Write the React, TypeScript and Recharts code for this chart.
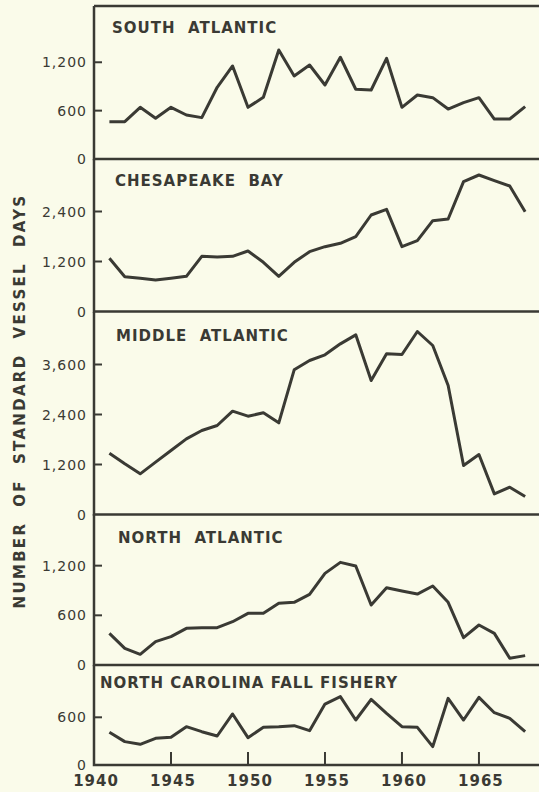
import { LineChart, Line, XAxis, YAxis } from "recharts"

// fishing effort, standard vessel days, 1941-1968
const years = [
  1941, 1942, 1943, 1944, 1945, 1946, 1947, 1948, 1949, 1950, 1951, 1952, 1953, 1954,
  1955, 1956, 1957, 1958, 1959, 1960, 1961, 1962, 1963, 1964, 1965, 1966, 1967, 1968,
]

const southAtlantic = [
  463, 463, 641, 505, 641, 546, 513, 890, 1154, 641, 765, 1352, 1030, 1166,
  918, 1262, 865, 856, 1249, 641, 794, 761, 620, 699, 761, 496, 496, 649,
]

const chesapeakeBay = [
  1276, 836, 796, 756, 796, 844, 1324, 1308, 1324, 1452, 1180, 844, 1180, 1436,
  1556, 1636, 1796, 2316, 2452, 1556, 1700, 2180, 2220, 3116, 3276, 3140, 3012, 2396,
]

const middleAtlantic = [
  1472, 1216, 976, 1256, 1536, 1816, 2016, 2136, 2480, 2360, 2440, 2200, 3472, 3696,
  3832, 4096, 4312, 3216, 3856, 3840, 4392, 4056, 3096, 1176, 1440, 496, 656, 432,
]

const northAtlantic = [
  382, 201, 129, 282, 342, 443, 451, 451, 523, 624, 624, 745, 757, 853,
  1107, 1240, 1196, 725, 934, 894, 857, 954, 757, 330, 483, 382, 81, 113,
]

const ncFallFishery = [
  411, 294, 260, 335, 348, 482, 419, 365, 642, 344, 474, 482, 495, 432,
  767, 860, 566, 826, 650, 482, 474, 231, 839, 566, 851, 658, 587, 419,
]

const yearTicks = [1940, 1945, 1950, 1955, 1960, 1965]

const data = years.map((year, i) => ({
  year,
  sa: southAtlantic[i],
  cb: chesapeakeBay[i],
  ma: middleAtlantic[i],
  na: northAtlantic[i],
  nc: ncFallFishery[i],
}))

const INK = "#3a3a34"
const PAPER = "#fafbea"
const FONT = "'DejaVu Sans', sans-serif"
const X_DOMAIN = [1940, 1968.9]
const RIGHT = 539

const panels = [
  { key: "sa", title: "SOUTH  ATLANTIC", top: 6, bottom: 159, max: 1898, ticks: [0, 600, 1200], titleX: 112, titleY: 28 },
  { key: "cb", title: "CHESAPEAKE  BAY", top: 159, bottom: 311.5, max: 3660, ticks: [0, 1200, 2400], titleX: 115, titleY: 181 },
  { key: "ma", title: "MIDDLE  ATLANTIC", top: 311.5, bottom: 514, max: 4860, ticks: [0, 1200, 2400, 3600], titleX: 116, titleY: 336 },
  { key: "na", title: "NORTH  ATLANTIC", top: 514, bottom: 665, max: 1824, ticks: [0, 600, 1200], titleX: 118, titleY: 538 },
  { key: "nc", title: "NORTH CAROLINA FALL FISHERY", top: 665, bottom: 765, max: 1258, ticks: [0, 600], titleX: 100, titleY: 683 },
]

// tick for the value axis; the zero tick also draws the panel frame (left edge, bottom rule, top rule on the first panel)
function YTick({ x, y, payload, first }: any) {
  let d = ""
  if (payload.value > 0) d = `M${x} ${y}H${x + 8}`
  else d = `M${x} 0V${y}H${RIGHT}` + (first ? `M${x} 0H${RIGHT}` : "")
  return (
    <g>
      <path d={d} fill="none" stroke={INK} strokeWidth={payload.value > 0 ? 2 : 2.5} />
      <text x={x - 7} y={y} dy="0.36em" textAnchor="end" fill={INK} fontSize={14} fontFamily={FONT} letterSpacing={1}>
        {payload.value.toLocaleString("en-US")}
      </text>
    </g>
  )
}

function XTick({ x, y, payload }: any) {
  return (
    <g>
      {payload.value > 1940 && <path d={`M${x} ${y}V${y - 13}`} fill="none" stroke={INK} strokeWidth={2} />}
      <text x={x + 2} y={y + 16} dy="0.36em" textAnchor="middle" fill={INK} fontSize={15} fontWeight="bold" fontFamily={FONT} letterSpacing={1}>
        {payload.value}
      </text>
    </g>
  )
}

export default function App() {
  return (
    <div style={{ position: "absolute", left: 0, top: 0, width: 539, height: 792, background: PAPER, overflow: "hidden" }}>
      <style>{`.recharts-surface{overflow:visible}`}</style>
      {panels.map((p, i) => {
        const last = i === panels.length - 1
        const axisH = last ? 27 : 0
        return (
          <div key={p.key} style={{ position: "absolute", left: 0, top: p.top }}>
            <LineChart
              width={539}
              height={p.bottom - p.top + axisH}
              data={data}
              margin={{ top: 0, right: 0, bottom: 0, left: 0 }}
            >
              <XAxis
                dataKey="year"
                type="number"
                domain={X_DOMAIN}
                allowDataOverflow
                ticks={yearTicks}
                interval={0}
                height={axisH}
                tick={last ? (props: any) => <XTick {...props} /> : false}
                tickLine={false}
                tickSize={0}
                tickMargin={0}
                axisLine={false}
              />
              <YAxis
                width={94}
                domain={[0, p.max]}
                allowDataOverflow
                ticks={p.ticks}
                interval={0}
                tick={(props: any) => <YTick {...props} first={i === 0} />}
                tickLine={false}
                tickSize={0}
                tickMargin={0}
                axisLine={false}
              />
              <Line
                type="linear"
                dataKey={p.key}
                stroke={INK}
                strokeWidth={3}
                strokeLinejoin="round"
                dot={false}
                isAnimationActive={false}
              />
            </LineChart>
            <div
              style={{
                position: "absolute",
                left: p.titleX,
                top: p.titleY - p.top - 7.5,
                fontFamily: FONT,
                fontWeight: "bold",
                fontSize: 15,
                lineHeight: "15px",
                letterSpacing: 1,
                whiteSpace: "pre",
                color: INK,
              }}
            >
              {p.title}
            </div>
          </div>
        )
      })}
      <div
        style={{
          position: "absolute",
          left: 20 - 215,
          top: 401 - 8,
          width: 430,
          height: 16,
          lineHeight: "16px",
          textAlign: "center",
          transform: "rotate(-90deg)",
          fontFamily: FONT,
          fontWeight: "bold",
          fontSize: 15,
          letterSpacing: 2.3,
          whiteSpace: "pre",
          color: INK,
        }}
      >
        NUMBER  OF  STANDARD  VESSEL  DAYS
      </div>
    </div>
  )
}
